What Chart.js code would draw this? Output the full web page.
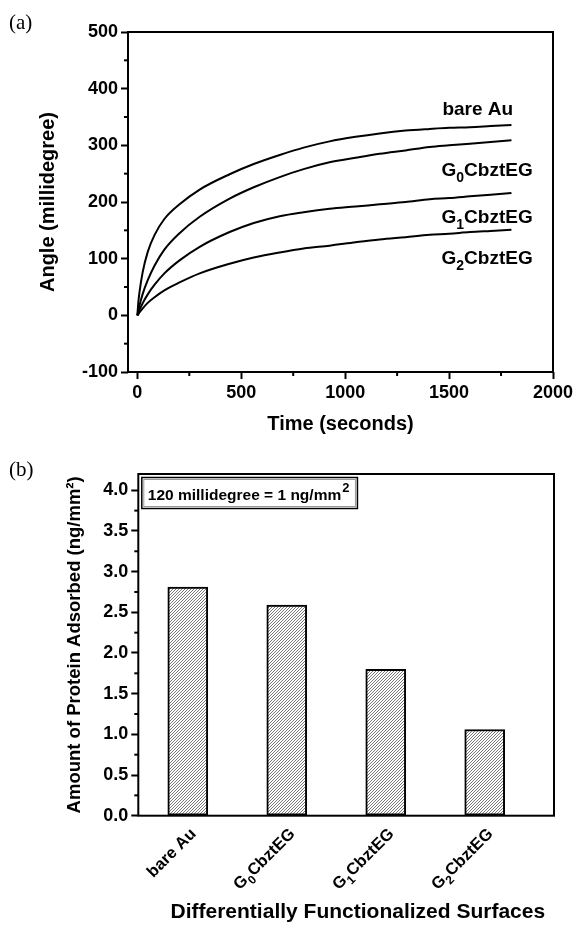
<!DOCTYPE html>
<html><head><meta charset="utf-8">
<script src="https://cdn.jsdelivr.net/npm/chart.js@4.4.0/dist/chart.umd.min.js"></script>
<style>
html,body{margin:0;padding:0;background:#fff;}
#wrap{position:relative;width:577px;height:929px;overflow:hidden;background:#fff;}
#c1{position:absolute;left:0;top:0;}
#c2{position:absolute;left:0;top:450px;}
.panel{position:absolute;font-family:"Liberation Serif","DejaVu Serif",serif;font-size:21px;line-height:21px;color:#000;}
</style></head><body>
<div id="wrap">
<canvas id="c1" width="577" height="470"></canvas>
<canvas id="c2" width="577" height="479"></canvas>
<div class="panel" style="left:9px;top:12px;">(a)</div>
<div class="panel" style="left:9px;top:459px;">(b)</div>
</div>
<script>
// ---------- data: panel (a) ----------
const timeSeconds = [0, 5, 10, 25, 50, 83, 130, 203, 300, 444, 560, 685, 800, 925, 1050, 1166, 1290, 1407, 1500, 1600, 1700, 1800];
const bareAu   = [0, 24, 40, 75, 112, 142, 170, 196, 222, 249, 267, 283, 296, 307, 315, 321, 326, 329, 331, 332, 334, 336];
const g0Cbzt   = [0, 9, 17, 37, 62, 88, 116, 145, 174, 206, 226, 244, 258, 270, 278, 285, 291, 297, 300, 303, 306, 309];
const g1Cbzt   = [0, 4, 9, 21, 37, 54, 74, 97, 121, 147, 163, 175, 182, 188, 192, 196, 200, 205, 207, 210, 213, 216];
const g2Cbzt   = [0, 2, 5, 12, 22, 32, 44, 58, 74, 91, 102, 111, 118, 123, 129, 134, 138, 142, 144, 147, 149, 151];
const curveNames = ['bare Au', 'G_0CbztEG', 'G_1CbztEG', 'G_2CbztEG'];
const xTicksA = [0, 500, 1000, 1500, 2000];
const yTicksA = [-100, 0, 100, 200, 300, 400, 500];

// ---------- data: panel (b) ----------
const surfaces = ['bare Au', 'G_0CbztEG', 'G_1CbztEG', 'G_2CbztEG'];
const proteinAdsorbed = [2.81, 2.59, 1.80, 1.06];
const yTicksB = [0, 0.5, 1, 1.5, 2, 2.5, 3, 3.5, 4];

// ---------- annotation placement (data units) ----------
const curveLabelT = [1638, 1683, 1683, 1683];
const curveLabelV = [366, 258, 175, 103];

const FAM = "'Liberation Sans', Arial, Helvetica, sans-serif";
const bold = (size) => ({ family: FAM, size: size, weight: 'bold' });
const plainName = s => s.replace(/_(\d)/g, '$1');

function parseRich(str) {
  const segs = [];
  const re = /_(\d)/g; let last = 0, m;
  while ((m = re.exec(str)) !== null) {
    if (m.index > last) segs.push({ t: str.slice(last, m.index) });
    segs.push({ t: m[1], sub: true });
    last = re.lastIndex;
  }
  if (last < str.length) segs.push({ t: str.slice(last) });
  return segs;
}
// draw text with subscripts; align 'center' (cx,cy = centre of caps) or 'right' (x,y = baseline end)
function drawRich(ctx, str, x0, y0, size, align) {
  const segs = parseRich(str);
  const main = 'bold ' + size + 'px ' + FAM;
  const sub = 'bold ' + Math.round(size * 0.75) + 'px ' + FAM;
  let w = 0;
  segs.forEach(s => { ctx.font = s.sub ? sub : main; w += ctx.measureText(s.t).width; });
  let x, base;
  if (align === 'right') { x = x0 - w; base = y0; }
  else { x = x0 - w / 2; base = y0 + size * 0.36; }
  ctx.textAlign = 'left'; ctx.textBaseline = 'alphabetic'; ctx.fillStyle = '#000';
  segs.forEach(s => {
    ctx.font = s.sub ? sub : main;
    ctx.fillText(s.t, x, base + (s.sub ? size * 0.3 : 0));
    x += ctx.measureText(s.t).width;
  });
}

// frame + minor ticks
const framePlugin = {
  id: 'frame',
  afterDraw(chart, args, opts) {
    const ctx = chart.ctx, a = chart.chartArea;
    ctx.save();
    ctx.strokeStyle = '#000'; ctx.lineWidth = 2;
    ctx.strokeRect(a.left, a.top, a.right - a.left, a.bottom - a.top);
    (opts.minor || []).forEach(m => {
      const s = chart.scales[m.axis];
      m.values.forEach(v => {
        const p = s.getPixelForValue(v);
        ctx.beginPath();
        if (s.isHorizontal()) { ctx.moveTo(p, a.bottom); ctx.lineTo(p, a.bottom + m.len); }
        else { ctx.moveTo(a.left, p); ctx.lineTo(a.left - m.len, p); }
        ctx.stroke();
      });
    });
    ctx.restore();
  }
};

const curveLabelPlugin = {
  id: 'curveLabels',
  afterDraw(chart, args, opts) {
    if (!opts.names) return;
    const ctx = chart.ctx, xs = chart.scales.x, ys = chart.scales.y;
    ctx.save();
    opts.names.forEach((n, i) => {
      drawRich(ctx, n, xs.getPixelForValue(opts.t[i]), ys.getPixelForValue(opts.v[i]), opts.size, 'center');
    });
    ctx.restore();
  }
};

// rotated category labels with subscripts, placed at the x scale's tick pixels
const catLabelPlugin = {
  id: 'catLabels',
  afterDraw(chart, args, opts) {
    if (!opts.names) return;
    const ctx = chart.ctx, xs = chart.scales.x, a = chart.chartArea;
    ctx.save();
    xs.ticks.forEach((t, i) => {
      const px = xs.getPixelForValue(t.value) + opts.dx;
      const py = a.bottom + opts.dy;
      ctx.save();
      ctx.translate(px, py);
      ctx.rotate(-Math.PI / 4);
      drawRich(ctx, opts.names[i], 0, 0, opts.size, 'right');
      ctx.restore();
    });
    ctx.restore();
  }
};

const noteBoxPlugin = {
  id: 'noteBox',
  afterDraw(chart, args, opts) {
    if (!opts.text) return;
    const ctx = chart.ctx, a = chart.chartArea;
    ctx.save();
    const size = opts.size;
    ctx.font = 'bold ' + size + 'px ' + FAM;
    const w1 = ctx.measureText(opts.text).width;
    ctx.font = 'bold ' + Math.round(size * 0.85) + 'px ' + FAM;
    const w2 = ctx.measureText(opts.sup).width;
    const bx = a.left + 3.5, by = a.top + 3.5, bw = w1 + w2 + 15, bh = 31;
    ctx.fillStyle = '#fff'; ctx.fillRect(bx, by, bw, bh);
    ctx.strokeStyle = '#000'; ctx.lineWidth = 1.5;
    ctx.strokeRect(bx, by, bw, bh);
    ctx.strokeStyle = '#999'; ctx.lineWidth = 1;
    ctx.strokeRect(bx + 2, by + 2, bw - 4, bh - 4);
    ctx.fillStyle = '#000'; ctx.textAlign = 'left'; ctx.textBaseline = 'alphabetic';
    ctx.font = 'bold ' + size + 'px ' + FAM;
    ctx.fillText(opts.text, bx + 6, by + 22.5);
    ctx.font = 'bold ' + Math.round(size * 0.85) + 'px ' + FAM;
    ctx.fillText(opts.sup, bx + 6 + w1 + 1, by + 14);
    ctx.restore();
  }
};

function hatchPattern() {
  const c = document.createElement('canvas'); c.width = 3; c.height = 3;
  const g = c.getContext('2d');
  g.fillStyle = '#fff'; g.fillRect(0, 0, 3, 3);
  g.strokeStyle = '#555'; g.lineWidth = 0.8;
  g.beginPath();
  g.moveTo(0, 3); g.lineTo(3, 0);
  g.moveTo(-1, 1); g.lineTo(1, -1);
  g.moveTo(2, 4); g.lineTo(4, 2);
  g.stroke();
  return g.createPattern(c, 'repeat');
}

// ---------- chart (a) ----------
const seriesA = [bareAu, g0Cbzt, g1Cbzt, g2Cbzt];
new Chart(document.getElementById('c1'), {
  type: 'line',
  data: {
    datasets: seriesA.map((vals, i) => ({
      label: plainName(curveNames[i]),
      data: timeSeconds.map((t, j) => ({ x: t, y: vals[j] })),
      borderColor: '#000', borderWidth: 2, pointRadius: 0, fill: false,
      cubicInterpolationMode: 'monotone'
    }))
  },
  options: {
    responsive: false, animation: false,
    layout: { padding: { top: 32, right: 24, left: 0, bottom: 0 } },
    plugins: {
      legend: { display: false }, tooltip: { enabled: false },
      frame: { minor: [
        { axis: 'x', values: [250, 750, 1250, 1750], len: 4 },
        { axis: 'y', values: [-50, 50, 150, 250, 350, 450], len: 4 }
      ] },
      curveLabels: { names: curveNames, t: curveLabelT, v: curveLabelV, size: 19 }
    },
    scales: {
      x: {
        type: 'linear', min: -45, max: 2000,
        afterBuildTicks: s => { s.ticks = xTicksA.map(v => ({ value: v })); },
        afterFit: s => { s.height = 98; },
        grid: { drawOnChartArea: false, tickLength: 7, tickWidth: 2, tickColor: '#000' },
        border: { display: false },
        ticks: { font: bold(18), color: '#000', padding: 3, maxRotation: 0, callback: v => String(v) },
        title: { display: true, text: 'Time (seconds)', font: bold(20), color: '#000', padding: { top: 0, bottom: 34 } }
      },
      y: {
        type: 'linear', min: -100, max: 500,
        afterBuildTicks: s => { s.ticks = yTicksA.map(v => ({ value: v })); },
        afterFit: s => { s.width = 128; },
        grid: { drawOnChartArea: false, tickLength: 7, tickWidth: 2, tickColor: '#000' },
        border: { display: false },
        ticks: { font: bold(18), color: '#000', padding: 3, callback: v => String(v) },
        title: { display: true, text: 'Angle (millidegree)', font: bold(20), color: '#000', padding: { top: 36, bottom: 0 } }
      }
    }
  },
  plugins: [framePlugin, curveLabelPlugin]
});

// ---------- chart (b) ----------
new Chart(document.getElementById('c2'), {
  type: 'bar',
  data: {
    labels: surfaces.map(plainName),
    datasets: [{
      label: 'Amount of Protein Adsorbed',
      data: proteinAdsorbed.map((v, i) => ({ x: i + 1, y: v })),
      backgroundColor: hatchPattern(), borderColor: '#000', borderWidth: 2,
      barThickness: 40, borderSkipped: false
    }]
  },
  options: {
    responsive: false, animation: false,
    layout: { padding: { top: 24, right: 23, left: 0, bottom: 0 } },
    plugins: {
      legend: { display: false }, tooltip: { enabled: false },
      frame: { minor: [
        { axis: 'y', values: [0.25, 0.75, 1.25, 1.75, 2.25, 2.75, 3.25, 3.75], len: 4 }
      ] },
      catLabels: { names: surfaces, size: 16.5, dx: 9, dy: 19 },
      noteBox: { text: '120 millidegree = 1 ng/mm', sup: '2', size: 15.5 }
    },
    scales: {
      x: {
        type: 'linear', min: 0.5, max: 4.7, offset: false,
        afterBuildTicks: s => { s.ticks = surfaces.map((n, i) => ({ value: i + 1 })); },
        afterFit: s => { s.height = 113.3; },
        grid: { display: true, drawOnChartArea: false, drawTicks: false, offset: false },
        border: { display: false },
        ticks: { display: false },
        title: { display: true, text: '    Differentially Functionalized Surfaces', font: bold(21), color: '#000', padding: { top: 0, bottom: 4 } }
      },
      y: {
        type: 'linear', min: 0, max: 4.2,
        afterBuildTicks: s => { s.ticks = yTicksB.map(v => ({ value: v })); },
        afterFit: s => { s.width = 138.3; },
        grid: { drawOnChartArea: false, tickLength: 7, tickWidth: 2, tickColor: '#000' },
        border: { display: false },
        ticks: { font: bold(18), color: '#000', padding: 3, callback: v => Number(v).toFixed(1) },
        title: { display: true, text: 'Amount of Protein Adsorbed (ng/mm\u00B2)', font: bold(18.5), color: '#000', padding: { top: 64, bottom: 0 } }
      }
    }
  },
  plugins: [framePlugin, noteBoxPlugin, catLabelPlugin]
});
</script>
</body></html>
